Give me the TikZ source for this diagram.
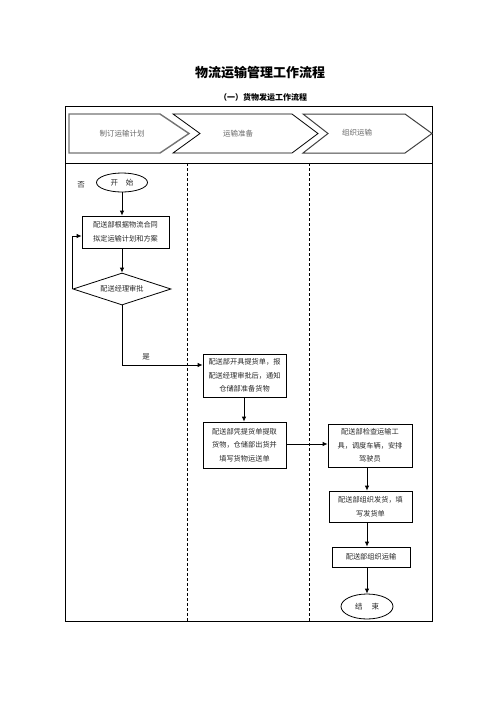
\documentclass[tikz,border=0pt]{standalone}
\usepackage{fontspec}
\setmainfont{Noto Sans CJK SC}
\usetikzlibrary{shapes.geometric,arrows.meta}
\begin{document}
\begin{tikzpicture}[x=1pt,y=-1pt,
  proc/.style={draw, line width=0.8pt, inner sep=0pt, align=center,
    font=\fontsize{7.2}{13.5}\selectfont, text=black!85},
  term/.style={draw, ellipse, line width=0.8pt, inner sep=0pt,
    font=\fontsize{7.5}{9}\selectfont, text=black!85},
  hdr/.style={font=\fontsize{7.5}{9}\selectfont, text=black!60},
  lbl/.style={font=\fontsize{7.5}{9}\selectfont, text=black!85},
  flow/.style={-{Latex[length=5pt,width=4.5pt]}, line width=0.8pt},
  lane/.style={dashed, dash pattern=on 3pt off 2pt, line width=0.8pt},
  chev/.style={draw, line width=0.8pt}]
\useasboundingbox (0,0) rectangle (496,702);
% titles
\node[font=\fontsize{13}{15}\selectfont\bfseries] (title) at (260,73) {物流运输管理工作流程};
\node[font=\fontsize{8}{10}\selectfont\bfseries] (sub) at (263,97) {（一）货物发运工作流程};
% frame
\draw[line width=1pt] (65,106) rectangle (432,621);
\draw[line width=1pt] (65,163) -- (432,163);
\draw[lane] (187.5,163) -- (187.5,621);
\draw[lane] (309,163) -- (309,621);
% header chevrons
\draw[line width=1.4pt, draw=black!55] (69,114) -- (160,114) -- (189,133.5) -- (160,153) -- (69,153) -- cycle;
\node[hdr] (h1) at (122,134) {制订运输计划};
\draw[chev] (173,114) -- (292,114) -- (318,133.5) -- (292,153) -- (173,153) -- (200,133.5) -- cycle;
\node[hdr] (h2) at (238,134) {运输准备};
\draw[chev, draw=black!75, line width=1pt] (303,114) -- (405,114) -- (432,133.5) -- (405,153) -- (303,153) -- (328,133.5) -- cycle;
\node[hdr] (h3) at (357,133) {组织运输};
% nodes
\node[term, minimum width=51pt, minimum height=19pt] (start) at (122,182.5) {开\hspace{8pt}始};
\node[lbl] (no) at (81,185) {否};
\node[proc, minimum width=87pt, minimum height=32pt] (b1) at (125.5,232) {配送部根据物流合同\\拟定运输计划和方案};
\node[draw, diamond, aspect=3.06, line width=0.8pt, inner sep=0pt,
      minimum width=98pt, minimum height=32pt,
      font=\fontsize{7.2}{9}\selectfont, text=black!85] (dia) at (122,289) {配送经理审批};
\node[lbl] (yes) at (146,357) {是};
\node[proc, minimum width=83pt, minimum height=43pt] (b2) at (244.5,375.5) {配送部开具提货单，报\\配送经理审批后，通知\\仓储部准备货物};
\node[proc, minimum width=83pt, minimum height=46pt] (b3) at (244.5,445) {配送部凭提货单提取\\货物，仓储部出货并\\填写货物运送单};
\node[proc, minimum width=84pt, minimum height=43pt] (b4) at (370,445.5) {配送部检查运输工\\具，调度车辆，安排\\驾驶员};
\node[proc, minimum width=83pt, minimum height=31pt] (b5) at (370.5,506.5) {配送部组织发货，填\\写发货单};
\node[proc, minimum width=78pt, minimum height=20pt] (b6) at (371,557) {配送部组织运输};
\node[term, minimum width=52pt, minimum height=25pt] (end) at (367,606.5) {结\hspace{9pt}束};
% connectors
\draw[flow] (start.south) -- (start.south |- b1.north);
\draw[flow] (start.south |- b1.south) -- (dia.north);
\draw[flow] (dia.west) |- ([yshift=-4pt]b1.west);
\draw[flow] (dia.south) |- ([yshift=10.5pt]b2.west);
\draw[flow] (b2.south -| 244,0) -- (b3.north -| 244,0);
\draw[flow] ([yshift=1pt]b3.east) -- ([yshift=1pt]b3.east -| b4.west);
\draw[flow] (b4.south -| end.north) -- (b5.north -| end.north);
\draw[flow] (b5.south -| end.north) -- (b6.north -| end.north);
\draw[flow] (b6.south -| end.north) -- (end.north);
\end{tikzpicture}
\end{document}
